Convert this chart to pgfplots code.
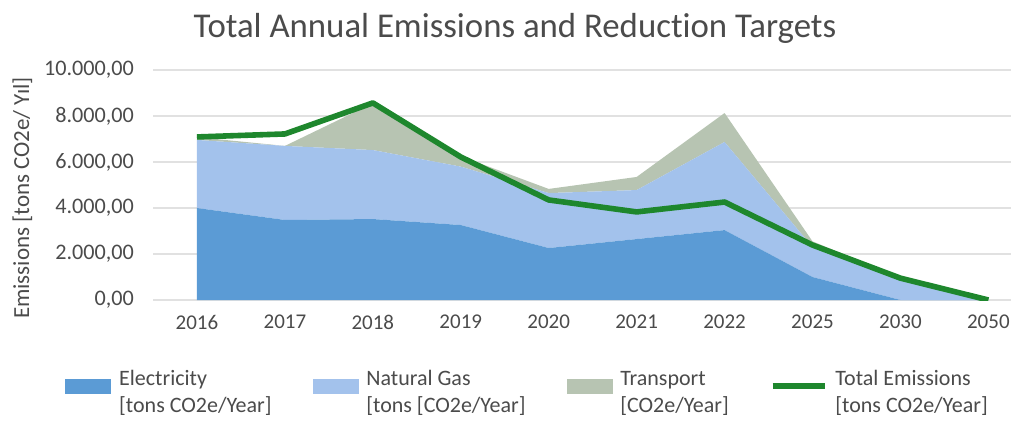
\documentclass[border=0pt]{standalone}
\usepackage{fontspec}
\setmainfont{Carlito}[Ligatures={NoCommon}]
\usepackage{pgfplots}
\pgfplotsset{compat=1.18}
\definecolor{elec}{RGB}{91,155,213}
\definecolor{gas}{RGB}{163,194,236}
\definecolor{trans}{RGB}{183,196,178}
\definecolor{tot}{RGB}{30,135,45}
\definecolor{txt}{RGB}{75,75,75}
\definecolor{grd}{RGB}{225,225,225}
\pgfplotsset{base/.style={scale only axis, width=430pt, height=115pt,
  xmin=-0.5, xmax=9.28, ymin=0, ymax=10000, at={(0,0)}, anchor=south west,
  xtick={0,...,9}, ytick={0,2000,...,10000}}}
\begin{document}
\begin{tikzpicture}
\path[use as bounding box] (-76.5pt,-60pt) rectangle (429pt,150pt);
\begin{axis}[base,
  stack plots=y,
  axis line style={draw=none}, tick style={draw=none},
  ymajorgrids, major grid style={grd, line width=0.6pt},
  xticklabels={2016,2017,2018,2019,2020,2021,2022,2025,2030,2050},
  ticklabel style={font=\fontsize{10.5}{12}\selectfont, text=txt},
  xticklabel style={yshift=-4pt},
  yticklabel style={xshift=-6pt, font=\fontsize{11.1}{13}\selectfont},
  scaled y ticks=false,
  yticklabel={\pgfmathprintnumber[fixed, fixed zerofill, precision=2, use comma, 1000 sep={.}, assume math mode=true]{\tick}},
  ylabel={Emissions [tons CO2e/ Yıl]},
  ylabel style={at={(axis description cs:-0.152,0.443)}, anchor=center, font=\fontsize{11.5}{13}\selectfont, text=txt},
]
\addplot[fill=elec, draw=none] coordinates {(0,4000)(1,3480)(2,3520)(3,3260)(4,2260)(5,2650)(6,3040)(7,1000)(8,0)(9,0)} \closedcycle;
\addplot[fill=gas, draw=none] coordinates {(0,2960)(1,3220)(2,3000)(3,2540)(4,2390)(5,2130)(6,3830)(7,1300)(8,900)(9,0)} \closedcycle;
\addplot[fill=trans, draw=none] coordinates {(0,120)(1,0)(2,2030)(3,450)(4,180)(5,570)(6,1260)(7,250)(8,80)(9,0)} \closedcycle;
\end{axis}
\begin{axis}[base, hide axis,
  legend columns=4,
  legend style={at={(-44pt,-35pt)}, anchor=north west, draw=none, inner sep=0pt,
    font=\fontsize{11}{13.5}\selectfont, text=txt,
    nodes={align=left, inner xsep=2pt, inner ysep=0pt},
    /tikz/every odd column/.append style={column sep=2pt},
    /tikz/every even column/.append style={column sep=18.5pt}},
]
\addlegendimage{legend image code/.code={\fill[elec] (0pt,0pt) rectangle (22.5pt,7pt);}}
\addlegendentry{Electricity\\{}[tons CO2e/Year]}
\addlegendimage{legend image code/.code={\fill[gas] (0pt,0pt) rectangle (22.5pt,7pt);}}
\addlegendentry{Natural Gas\\{}[tons [CO2e/Year]}
\addlegendimage{legend image code/.code={\fill[trans] (0pt,0pt) rectangle (22.5pt,7pt);}}
\addlegendentry{Transport\\{}[CO2e/Year]}
\addplot[tot, line width=2.8pt, line join=round,
  legend image code/.code={\draw[tot, line width=2.8pt] (-4pt,3.5pt) -- (22pt,3.5pt);}]
  coordinates {(0,7090)(1,7220)(2,8570)(3,6220)(4,4350)(5,3830)(6,4260)(7,2390)(8,950)(9,0)};
\addlegendentry{Total Emissions\\{}[tons CO2e/Year]}
\end{axis}
\node[font=\fontsize{17.4}{20}\selectfont, text=txt] at (181pt,136pt) {Total Annual Emissions and Reduction Targets};
\end{tikzpicture}
\end{document}
